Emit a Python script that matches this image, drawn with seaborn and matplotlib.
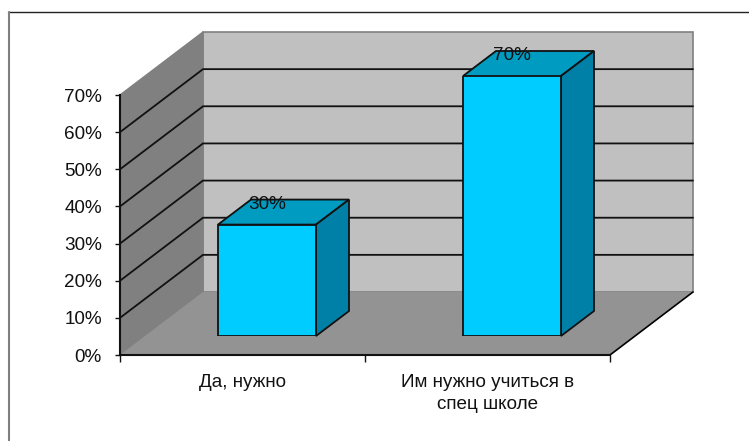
import matplotlib
matplotlib.use('Agg')
import matplotlib.pyplot as plt
from matplotlib.lines import Line2D
from matplotlib.patches import Polygon
import pandas as pd
import seaborn as sns

# --- DATA ---
categories = ['Да, нужно', 'Им нужно учиться в\nспец школе']
values = [0.30, 0.70]
y_ticks = [0, 0.1, 0.2, 0.3, 0.4, 0.5, 0.6, 0.7]

# --- CONFIG ---
W, H = 749, 441
LEFT, RIGHT, TOP, BOTTOM = 120, 610, 95, 355  # front plane of the plot, px
WALL_DX, WALL_DY = 83, 63
BAR_DX, BAR_DY = 33, 25
BAR_SHIFT_X, BAR_SHIFT_Y = 24.5, 19
FONT_SIZE = 13.6

sns.set_theme(style='white')
plt.rcParams['font.family'] = ['Liberation Sans', 'DejaVu Sans']

fig = plt.figure(figsize=(W / 100, H / 100), dpi=100)

# chart frame: only the top and left edges fall inside the picture
fig.add_artist(Line2D([8 / W, 1], [1 - 11.5 / H, 1 - 11.5 / H], color='#222222', linewidth=1))
fig.add_artist(Line2D([8.5 / W, 8.5 / W], [1 - 11.5 / H, 0], color='#808080', linewidth=1.5))


def px_axes(left, top, right, bottom):
    return fig.add_axes([left / W, 1 - bottom / H, (right - left) / W, (bottom - top) / H])


ax = px_axes(LEFT, TOP, RIGHT, BOTTOM)
ax.patch.set_alpha(0)
ax.set_xlim(-0.5, 1.5)
ax.set_ylim(0, 0.7)

# depth of the walls, converted to data units
per_x = (RIGHT - LEFT) / 2
per_y = (BOTTOM - TOP) / 0.7
dx = WALL_DX / per_x
dy = WALL_DY / per_y
x0, x1 = -0.5, 1.5
ymax = y_ticks[-1]

ax.add_patch(Polygon([(x0 + dx, dy), (x1 + dx, dy), (x1 + dx, ymax + dy), (x0 + dx, ymax + dy)],
                     facecolor='#C0C0C0', edgecolor='#808080', linewidth=1.2, clip_on=False, zorder=1))
ax.add_patch(Polygon([(x0, 0), (x0 + dx, dy), (x0 + dx, ymax + dy), (x0, ymax)],
                     facecolor='#808080', edgecolor='#808080', linewidth=1, clip_on=False, zorder=1))
ax.add_patch(Polygon([(x0, 0), (x1, 0), (x1 + dx, dy), (x0 + dx, dy)],
                     facecolor='#939393', edgecolor='none', clip_on=False, zorder=1.5))
ax.plot([x1, x1 + dx], [0, dy], color='black', lw=1.2, clip_on=False, zorder=2)

# gridlines run along the side wall and then the back wall
for v in y_ticks[1:-1]:
    ax.plot([x0, x0 + dx, x1 + dx], [v, v + dy, v + dy], color='#111111', lw=1.3,
            clip_on=False, zorder=2, solid_joinstyle='miter')

# the bars stand in the middle of the floor, so they get their own shifted axes
ax_bar = px_axes(LEFT + BAR_SHIFT_X, TOP - BAR_SHIFT_Y, RIGHT + BAR_SHIFT_X, BOTTOM - BAR_SHIFT_Y)
ax_bar.patch.set_alpha(0)
df = pd.DataFrame({'cat': categories, 'val': values})
sns.barplot(data=df, x='cat', y='val', ax=ax_bar, color='#00CCFF', width=0.4, saturation=1,
            edgecolor='#111111', linewidth=1.3, zorder=5)
ax_bar.set_xlim(-0.5, 1.5)
ax_bar.set_ylim(0, 0.7)
ax_bar.axis('off')

bx = BAR_DX / per_x
by = BAR_DY / per_y
for bar, v in zip(ax_bar.patches, values):
    l, r = bar.get_x(), bar.get_x() + bar.get_width()
    ax_bar.add_patch(Polygon([(l, v), (r, v), (r + bx, v + by), (l + bx, v + by)], facecolor='#009BC0',
                             edgecolor='#111111', linewidth=1.3, clip_on=False, zorder=4))
    ax_bar.add_patch(Polygon([(r, 0), (r + bx, by), (r + bx, v + by), (r, v)], facecolor='#0080A6',
                             edgecolor='#111111', linewidth=1.3, clip_on=False, zorder=4))
    ax_bar.annotate(f'{v:.0%}', ((l + r) / 2, v), xytext=(0, 14.5), textcoords='offset points',
                    ha='center', va='center', fontsize=FONT_SIZE, color='#111111', zorder=6,
                    annotation_clip=False)

# axes
sns.despine(ax=ax)
for side in ['left', 'bottom']:
    ax.spines[side].set_linewidth(1.5)
    ax.spines[side].set_color('#111111')
    ax.spines[side].set_zorder(3)
ax.set_yticks(y_ticks)
ax.set_yticklabels([f'{v:.0%}' for v in y_ticks])
ax.set_xticks([-0.5, 0.5, 1.5])
ax.set_xticklabels([])
ax.set_xticks([0, 1], labels=categories, minor=True)
ax.tick_params(axis='y', left=True, length=3.5, width=1, color='#111111', labelsize=FONT_SIZE, pad=9.5, labelcolor='#111111')
ax.tick_params(axis='x', which='major', bottom=True, length=5, width=1, color='#111111')
ax.tick_params(axis='x', which='minor', bottom=False, length=0, labelsize=FONT_SIZE, pad=14, labelcolor='#111111')
for label in ax.get_yticklabels():
    label.set_verticalalignment('center_baseline')
for label in ax.get_xticklabels(minor=True):
    label.set_linespacing(1.35)

fig.savefig('out.png', dpi=100, facecolor='white')
